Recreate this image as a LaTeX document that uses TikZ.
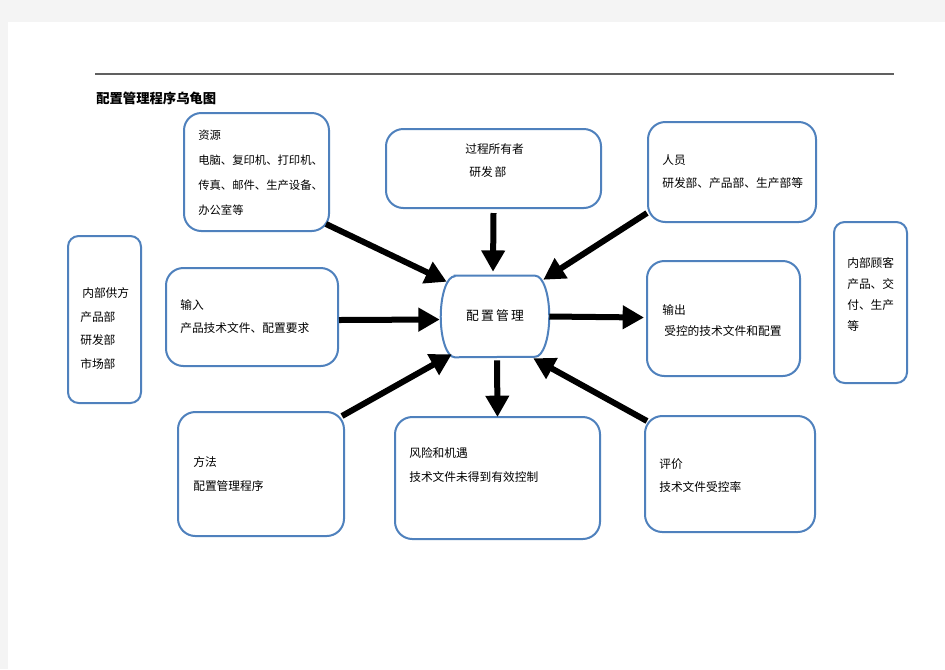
\documentclass[tikz,border=0pt]{standalone}
\usepackage{fontspec}
\newfontfamily\cjk{Noto Sans CJK SC}
\usetikzlibrary{arrows.meta,fit}
\definecolor{bxblue}{RGB}{79,129,189}
\definecolor{pagegray}{RGB}{244,244,244}
\definecolor{rulegray}{RGB}{96,96,96}
\tikzset{
  bx/.style={draw=bxblue, line width=1.5pt, rounded corners=13pt, fill=white, inner sep=0pt},
  bxn/.style={bx, rounded corners=8pt},
  lbl/.style={anchor=west, inner sep=0pt, align=left},
  bigarrow/.style={line width=4.5pt, -{Triangle[length=16pt,width=17pt]}},
}
\newcommand{\lf}[1]{\cjk\fontsize{8.8pt}{#1}\selectfont}
\begin{document}
\begin{tikzpicture}[x=0.75pt, y=-0.75pt]
\useasboundingbox (0,0) rectangle (945,669);
\fill[pagegray] (0,0) rectangle (945,669);
\fill[white] (8,22) rectangle (945,669);
\draw[rulegray, line width=0.9pt] (95,74) -- (894,74);
\node[anchor=west, inner sep=0pt, font=\cjk\fontsize{10pt}{12pt}\selectfont\bfseries] (title) at (96,98) {配置管理程序乌龟图};

% boxes
\node[bx, fit={(184,113) (329,231)}] (res) {};
\node[bx, fit={(386,129) (601,208)}] (own) {};
\node[bx, fit={(648,122) (816,222)}] (ppl) {};
\node[bxn, fit={(68,236) (141,403)}] (sup) {};
\node[bx, fit={(166,268) (338,366)}] (inp) {};
\node[bx, fit={(647,261) (800,376)}] (out) {};
\node[bxn, fit={(834,222) (907,383)}] (cus) {};
\node[bx, fit={(178,412) (344,536)}] (met) {};
\node[bx, fit={(395,417) (600,539)}] (risk) {};
\node[bx, fit={(645,416) (815,532)}] (eval) {};

% central process
\node[inner sep=0pt, fit={(441,276) (549,357)}] (cm) {};
\draw[bxblue, line width=1.5pt, fill=white]
  ([xshift=10.5pt]cm.north west) -- ([xshift=-10.5pt]cm.north east)
  arc[start angle=90, end angle=-90, x radius=10.5pt, y radius=30.375pt]
  -- ([xshift=10.5pt]cm.south west)
  arc[start angle=270, end angle=90, x radius=10.5pt, y radius=30.375pt] -- cycle;
\node[inner sep=0pt, font=\cjk\fontsize{9.6pt}{12pt}\selectfont] (cmt) at (495,316) {配\,置\,管\,理};

% texts
\node[lbl, font=\cjk\fontsize{8.5pt}{18.75pt}\selectfont] (rest) at (198,172.5) {资源\\电脑、复印机、打印机、\\传真、邮件、生产设备、\\办公室等};
\node[lbl, font=\lf{17.25pt}] (ownt) at (465,160.5) {过程所有者\\\hspace{3pt}研发\,部};
\node[lbl, font=\lf{17.25pt}] (pplt) at (662,171.5) {人员\\研发部、产品部、生产部等};
\node[lbl, font=\lf{17.75pt}] (supt) at (80,328.5) {\hspace{1.5pt}内部供方\\产品部\\研发部\\市场部};
\node[lbl, font=\lf{17.25pt}] (inpt) at (180,316.5) {输入\\产品技术文件、配置要求};
\node[lbl, font=\lf{15.75pt}] (outt) at (662,320.5) {输出\\\hspace{1.5pt}受控的技术文件和配置};
\node[lbl, font=\lf{15.75pt}] (cust) at (847,294.5) {内部顾客\\产品、交\\付、生产\\等};
\node[lbl, font=\lf{18pt}] (mett) at (193,474) {方法\\配置管理程序};
\node[lbl, font=\lf{18pt}] (riskt) at (409,465) {风险和机遇\\技术文件未得到有效控制};
\node[lbl, font=\lf{17.25pt}] (evalt) at (659,475.5) {评价\\技术文件受控率};

% arrows
\draw[bigarrow] ([shift={(-4,-8)}]res.south east) -- ([shift={(6,6)}]cm.north west);
\draw[bigarrow] ([shift={(0,4)}]own.south) -- ([shift={(-2,-4)}]cm.north);
\draw[bigarrow] ([shift={(0,-10)}]ppl.south west) -- ([shift={(-6,4)}]cm.north east);
\draw[bigarrow] ([shift={(0,3)}]inp.east) -- ([shift={(-1,3)}]cm.west);
\draw[bigarrow] (cm.east) -- ([shift={(-2,-1)}]out.west);
\draw[bigarrow] ([shift={(-3,5)}]met.north east) -- ([shift={(11,-3)}]cm.south west);
\draw[bigarrow] ([shift={(2,3)}]cm.south) -- ([shift={(0,1)}]risk.north);
\draw[bigarrow] ([shift={(3,6)}]eval.north west) -- ([shift={(-16,1)}]cm.south east);
\end{tikzpicture}
\end{document}
